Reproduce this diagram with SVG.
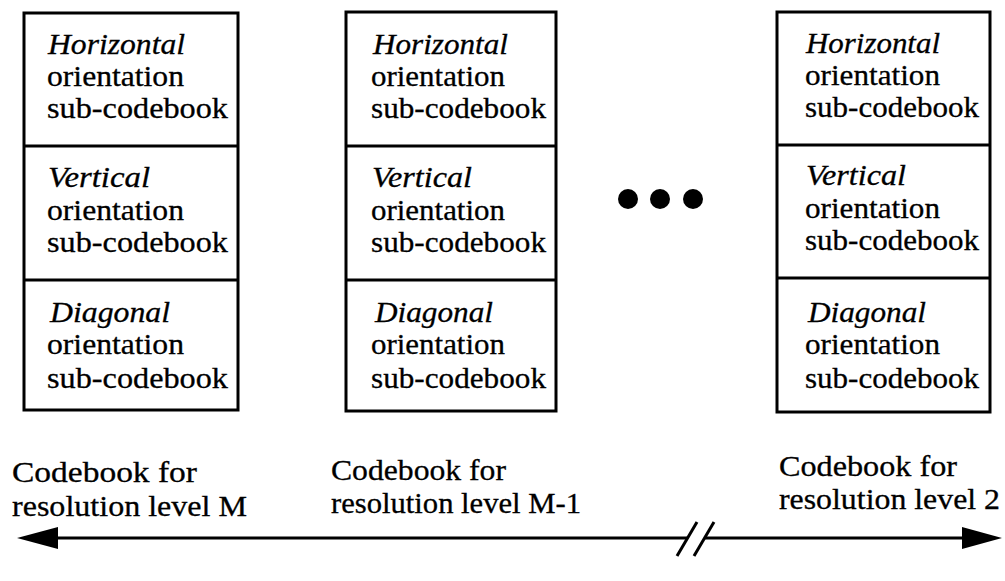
<svg xmlns="http://www.w3.org/2000/svg" width="1005" height="581" viewBox="0 0 1005 581">
<style>
.box{fill:#fff;stroke:#000;stroke-width:3}
.div{stroke:#000;stroke-width:3}
text{font-family:"Liberation Serif","Times New Roman",serif;font-size:29px;fill:#000;stroke:#000;stroke-width:0.3}
.it{font-style:italic}
.conn{stroke:#000;stroke-width:3;fill:none}
</style>
<rect width="1005" height="581" fill="#fff"/>
<g id="codebook-M">
<rect class="box" x="24" y="13" width="214" height="397"/>
<line class="div" x1="24" y1="146" x2="238" y2="146"/>
<line class="div" x1="24" y1="280" x2="238" y2="280"/>
<text class="it" x="48" y="54" textLength="137" lengthAdjust="spacingAndGlyphs">Horizontal</text>
<text x="47" y="86" textLength="137" lengthAdjust="spacingAndGlyphs">orientation</text>
<text x="47" y="118" textLength="181" lengthAdjust="spacingAndGlyphs">sub-codebook</text>
<text class="it" x="48" y="187" textLength="102" lengthAdjust="spacingAndGlyphs">Vertical</text>
<text x="47" y="220" textLength="137" lengthAdjust="spacingAndGlyphs">orientation</text>
<text x="47" y="252" textLength="181" lengthAdjust="spacingAndGlyphs">sub-codebook</text>
<text class="it" x="50" y="322" textLength="120" lengthAdjust="spacingAndGlyphs">Diagonal</text>
<text x="47" y="354" textLength="137" lengthAdjust="spacingAndGlyphs">orientation</text>
<text x="47" y="388" textLength="181" lengthAdjust="spacingAndGlyphs">sub-codebook</text>
</g>
<g id="codebook-M-1">
<rect class="box" x="346" y="12" width="210" height="399"/>
<line class="div" x1="346" y1="146" x2="556" y2="146"/>
<line class="div" x1="346" y1="280" x2="556" y2="280"/>
<text class="it" x="373" y="54" textLength="135" lengthAdjust="spacingAndGlyphs">Horizontal</text>
<text x="371" y="86" textLength="134" lengthAdjust="spacingAndGlyphs">orientation</text>
<text x="371" y="118" textLength="175" lengthAdjust="spacingAndGlyphs">sub-codebook</text>
<text class="it" x="372" y="187" textLength="100" lengthAdjust="spacingAndGlyphs">Vertical</text>
<text x="371" y="220" textLength="134" lengthAdjust="spacingAndGlyphs">orientation</text>
<text x="371" y="252" textLength="175" lengthAdjust="spacingAndGlyphs">sub-codebook</text>
<text class="it" x="375" y="322" textLength="118" lengthAdjust="spacingAndGlyphs">Diagonal</text>
<text x="371" y="354" textLength="134" lengthAdjust="spacingAndGlyphs">orientation</text>
<text x="371" y="388" textLength="175" lengthAdjust="spacingAndGlyphs">sub-codebook</text>
</g>
<g id="ellipsis">
<circle cx="628" cy="199" r="10" fill="#000"/>
<circle cx="660" cy="199" r="10" fill="#000"/>
<circle cx="693" cy="199" r="10" fill="#000"/>
</g>
<g id="codebook-2">
<rect class="box" x="777" y="12" width="213" height="400"/>
<line class="div" x1="777" y1="145" x2="990" y2="145"/>
<line class="div" x1="777" y1="278" x2="990" y2="278"/>
<text class="it" x="806" y="53" textLength="134" lengthAdjust="spacingAndGlyphs">Horizontal</text>
<text x="805" y="85" textLength="135" lengthAdjust="spacingAndGlyphs">orientation</text>
<text x="805" y="117" textLength="174" lengthAdjust="spacingAndGlyphs">sub-codebook</text>
<text class="it" x="806" y="185" textLength="100" lengthAdjust="spacingAndGlyphs">Vertical</text>
<text x="805" y="218" textLength="135" lengthAdjust="spacingAndGlyphs">orientation</text>
<text x="805" y="250" textLength="174" lengthAdjust="spacingAndGlyphs">sub-codebook</text>
<text class="it" x="808" y="322" textLength="118" lengthAdjust="spacingAndGlyphs">Diagonal</text>
<text x="805" y="354" textLength="135" lengthAdjust="spacingAndGlyphs">orientation</text>
<text x="805" y="388" textLength="174" lengthAdjust="spacingAndGlyphs">sub-codebook</text>
</g>
<g id="label-M">
<text x="12" y="482" textLength="185" lengthAdjust="spacingAndGlyphs">Codebook for</text>
<text x="12" y="516" textLength="235" lengthAdjust="spacingAndGlyphs">resolution level M</text>
</g>
<g id="label-M-1">
<text x="331" y="480" textLength="175" lengthAdjust="spacingAndGlyphs">Codebook for</text>
<text x="331" y="513" textLength="250" lengthAdjust="spacingAndGlyphs">resolution level M-1</text>
</g>
<g id="label-2">
<text x="779" y="476" textLength="178" lengthAdjust="spacingAndGlyphs">Codebook for</text>
<text x="779" y="509" textLength="221" lengthAdjust="spacingAndGlyphs">resolution level 2</text>
</g>
<g id="connectors">
<line class="conn" x1="50" y1="538" x2="687" y2="538"/>
<line class="conn" x1="704" y1="538" x2="968" y2="538"/>
<polygon points="17,538 58,527 58,549" fill="#000"/>
<polygon points="1002,538 962,527 962,549" fill="#000"/>
<line class="conn" x1="677" y1="556" x2="697" y2="522"/>
<line class="conn" x1="694" y1="556" x2="714" y2="522"/>
</g>
</svg>
